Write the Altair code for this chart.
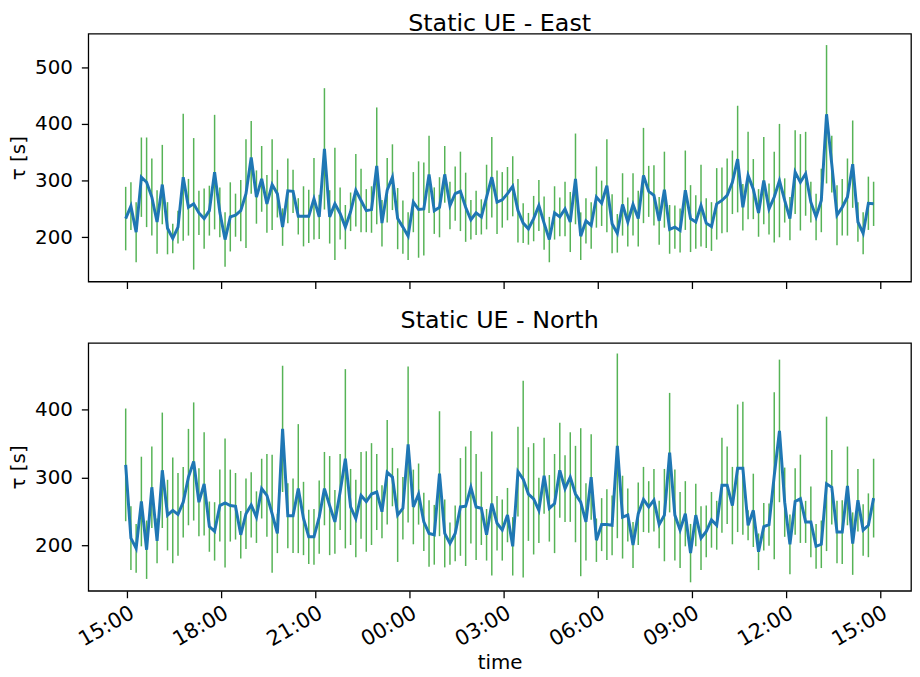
import altair as alt
import pandas as pd

# 10-minute samples over one day
start_time = "2021-06-01 14:58"
n_samples = 144
times = pd.date_range(start_time, periods=n_samples, freq="10min").strftime("%Y-%m-%dT%H:%M:%S").tolist()

east_mean = [233, 255, 209, 306, 297, 271, 227, 293, 216, 198,
             218, 306, 253, 259, 243, 233, 247, 315, 244, 196,
             236, 239, 247, 277, 341, 271, 303, 259, 293, 277,
             218, 282, 281, 237, 237, 237, 268, 236, 356, 236,
             259, 242, 218, 245, 283, 265, 247, 249, 326, 225,
             283, 306, 233, 218, 202, 262, 249, 250, 311, 247,
             253, 311, 256, 277, 281, 253, 231, 243, 236, 271,
             306, 262, 266, 277, 290, 247, 225, 215, 233, 256,
             225, 196, 243, 236, 250, 227, 303, 202, 229, 221,
             271, 260, 291, 224, 207, 258, 227, 258, 233, 309,
             281, 274, 229, 284, 214, 218, 212, 283, 233, 227,
             256, 225, 219, 259, 265, 274, 297, 338, 253, 309,
             285, 243, 300, 250, 271, 300, 265, 233, 315, 297,
             312, 262, 236, 265, 417, 329, 239, 253, 271, 329,
             227, 207, 260, 259]
east_std = [56, 42, 53, 70, 79, 68, 56, 70, 46, 26,
            29, 112, 50, 116, 39, 53, 44, 101, 44, 48,
            61, 38, 54, 96, 64, 47, 58, 51, 80, 42,
            33, 57, 38, 32, 53, 47, 72, 39, 107, 47,
            99, 46, 39, 34, 64, 56, 38, 41, 103, 41,
            57, 58, 54, 47, 42, 53, 85, 82, 68, 41,
            53, 50, 42, 48, 70, 61, 35, 39, 31, 57,
            71, 56, 49, 47, 53, 56, 35, 28, 40, 45,
            47, 40, 47, 34, 48, 53, 80, 42, 40, 41,
            54, 40, 82, 52, 34, 55, 43, 55, 49, 84,
            45, 53, 42, 67, 43, 38, 39, 70, 59, 47,
            72, 44, 43, 63, 58, 65, 56, 94, 41, 77,
            53, 42, 77, 45, 80, 100, 39, 38, 74, 85,
            74, 36, 41, 56, 122, 50, 53, 50, 68, 77,
            35, 37, 47, 39]

north_mean = [319, 211, 196, 265, 194, 286, 207, 311, 245, 252,
              246, 264, 301, 324, 264, 291, 228, 221, 259, 263,
              259, 258, 216, 247, 260, 242, 284, 274, 247, 218,
              372, 244, 244, 284, 240, 213, 213, 242, 284, 259,
              235, 279, 328, 257, 240, 274, 265, 276, 279, 250,
              308, 301, 245, 255, 349, 257, 276, 235, 218, 216,
              306, 218, 203, 218, 257, 258, 286, 257, 255, 216,
              262, 233, 223, 245, 199, 309, 298, 276, 269, 252,
              303, 255, 262, 311, 284, 301, 276, 264, 235, 301,
              208, 231, 231, 230, 347, 242, 245, 201, 247, 268,
              257, 267, 231, 245, 337, 245, 223, 247, 189, 245,
              211, 221, 238, 230, 289, 289, 259, 314, 314, 230,
              252, 191, 228, 231, 303, 369, 264, 202, 265, 269,
              235, 235, 199, 202, 291, 286, 220, 220, 288, 203,
              267, 223, 230, 270]
north_std = [83, 47, 36, 66, 43, 60, 33, 85, 52, 78,
             61, 52, 71, 87, 50, 76, 37, 43, 53, 95,
             53, 49, 35, 52, 48, 38, 44, 61, 87, 29,
             93, 48, 55, 95, 54, 40, 41, 54, 54, 73,
             47, 56, 132, 56, 57, 64, 74, 75, 56, 39,
             77, 43, 69, 46, 115, 55, 45, 43, 49, 44,
             92, 50, 31, 41, 72, 88, 83, 78, 54, 38,
             106, 40, 45, 40, 43, 66, 145, 69, 82, 48,
             56, 49, 73, 70, 49, 66, 71, 109, 57, 63,
             32, 39, 52, 44, 136, 61, 39, 34, 46, 48,
             38, 46, 35, 68, 88, 67, 56, 48, 43, 46,
             47, 38, 41, 36, 70, 57, 57, 94, 98, 22,
             54, 27, 35, 31, 123, 105, 51, 44, 49, 65,
             31, 52, 33, 35, 99, 55, 46, 47, 58, 46,
             46, 38, 47, 58]

tick_hours = [(1, 15), (1, 18), (1, 21), (2, 0), (2, 3), (2, 6), (2, 9), (2, 12), (2, 15)]
x_ticks = [alt.DateTime(year=2021, month=6, date=d, hours=h) for d, h in tick_hours]
x_domain = [alt.DateTime(year=2021, month=6, date=1, hours=13, minutes=46, seconds=30),
            alt.DateTime(year=2021, month=6, date=2, hours=15, minutes=59, seconds=30)]

FONT = "DejaVu Sans"


def panel(title, mean, std, y_domain, y_ticks, show_x, title_offset):
    df = pd.DataFrame({
        "time": times,
        "mean": mean,
        "low": [m - s for m, s in zip(mean, std)],
        "high": [m + s for m, s in zip(mean, std)],
    })
    if show_x:
        xaxis = alt.Axis(values=x_ticks, format="%H:%M", labelAngle=330, labelAlign="right",
                         labelBaseline="top", labelFontSize=21, labelPadding=4,
                         tickSize=7, tickWidth=1.3, tickColor="black", domain=False, grid=False,
                         labelColor="black", title="time", titleFontSize=20,
                         titleFontWeight="normal", titleColor="black", titlePadding=3,
                         labelOverlap=False, labelFont=FONT, titleFont=FONT)
        xenc = alt.X("time:T", axis=xaxis, scale=alt.Scale(domain=x_domain), title="time")
    else:
        xaxis = alt.Axis(values=x_ticks, labels=False, tickSize=7, tickWidth=1.3,
                         tickColor="black", domain=False, grid=False)
        xenc = alt.X("time:T", axis=xaxis, scale=alt.Scale(domain=x_domain), title=None)
    yaxis = alt.Axis(values=y_ticks, labelFontSize=20, labelPadding=9, tickSize=7, tickWidth=1.3,
                     tickColor="black", domain=False, grid=False, labelColor="black",
                     titleFontSize=20, titleFontWeight="normal", titleColor="black",
                     titlePadding=6, labelFont=FONT, titleFont=FONT)
    yscale = alt.Scale(domain=y_domain, nice=False, zero=False)
    base = alt.Chart(df)
    bars = base.mark_rule(color="#2ca02c", strokeWidth=1.5, opacity=0.8).encode(
        x=xenc,
        y=alt.Y("low:Q", axis=yaxis, scale=yscale, title="τ [s]"),
        y2="high:Q",
    )
    line = base.mark_line(color="#1f77b4", strokeWidth=3).encode(
        x=xenc,
        y=alt.Y("mean:Q", axis=yaxis, scale=yscale, title="τ [s]"),
    )
    return alt.layer(bars, line).properties(
        width=830, height=250,
        title=alt.TitleParams(title, fontSize=24, fontWeight="normal", color="black",
                              font=FONT, offset=title_offset),
    )


top = panel("Static UE - East", east_mean, east_std, [122, 559], [200, 300, 400, 500], False, -2)
bottom = panel("Static UE - North", north_mean, north_std, [133.5, 498.5], [200, 300, 400], True, 10)

chart = alt.vconcat(top, bottom, spacing=62, bounds="flush").properties(
    padding=0, background="white"
).configure(font=FONT).configure_view(stroke="black", strokeWidth=1.3)

chart.save("out.html", embed_options={"renderer": "svg", "actions": False})
